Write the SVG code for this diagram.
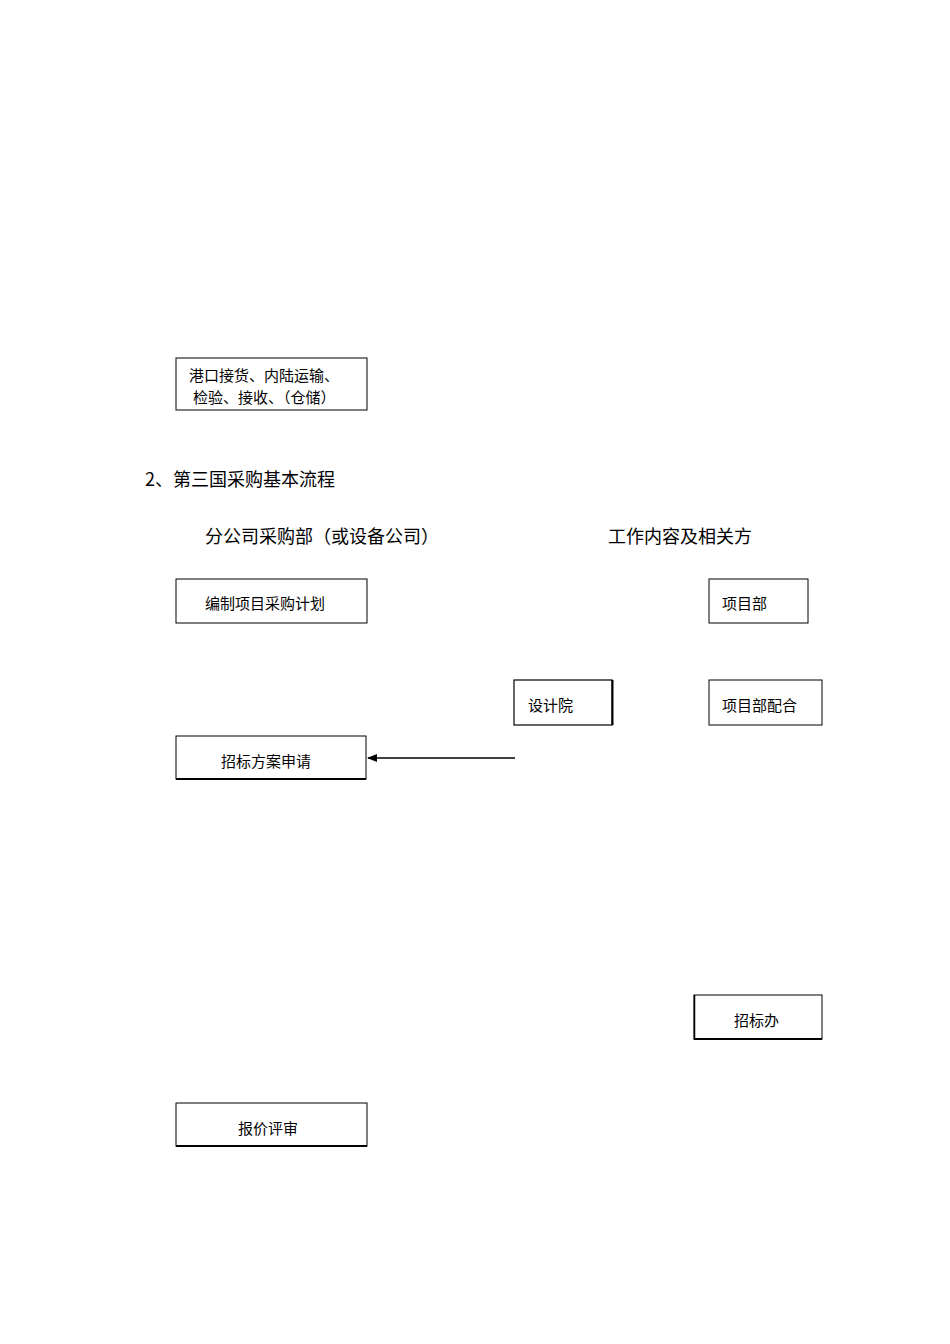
<svg xmlns="http://www.w3.org/2000/svg" width="950" height="1344" viewBox="0 0 950 1344">
<defs>
<style>
.b{fill:#fff;stroke:#000;stroke-width:1}
.t{font-family:"Liberation Serif","Noto Sans CJK SC",serif;font-size:15px;fill:#000}
.h{font-family:"Noto Sans CJK SC","Noto Sans",sans-serif;font-size:18px;fill:#000}
</style>
<marker id="ar" markerWidth="10" markerHeight="8" refX="9" refY="4" orient="auto" markerUnits="userSpaceOnUse"><path d="M0,0 L10,4 L0,8 z" fill="#000"/></marker>
</defs>
<rect width="950" height="1344" fill="#fff"/>
<g id="n1"><rect class="b" x="176" y="358" width="191" height="52"/><text class="t" x="189" y="381">港口接货、内陆运输、</text><text class="t" x="193" y="403">检验、接收、（仓储）</text></g>
<text class="h" x="145" y="486">2、第三国采购基本流程</text>
<text class="h" x="205" y="543">分公司采购部（或设备公司）</text>
<text class="h" x="608" y="543">工作内容及相关方</text>
<g id="n2"><rect class="b" x="176" y="579" width="191" height="44"/><text class="t" x="205" y="609">编制项目采购计划</text></g>
<g id="n3"><rect class="b" x="709" y="579" width="99" height="44"/><text class="t" x="722" y="609">项目部</text></g>
<g id="n4"><rect class="b" x="514" y="680" width="98" height="45" style="stroke-width:1.2"/><line x1="612.5" y1="680" x2="612.5" y2="725" stroke="#000" stroke-width="2"/><text class="t" x="528" y="711">设计院</text></g>
<g id="n5"><rect class="b" x="709" y="680" width="113" height="45"/><text class="t" x="722" y="711">项目部配合</text></g>
<g id="n6"><rect class="b" x="176" y="736" width="190" height="43"/><line x1="176" y1="779" x2="366" y2="779" stroke="#000" stroke-width="2"/><text class="t" x="221" y="767">招标方案申请</text></g>
<g id="n7"><rect class="b" x="694" y="995" width="128" height="44"/><line x1="694" y1="1039" x2="822" y2="1039" stroke="#000" stroke-width="2"/><line x1="694.5" y1="995" x2="694.5" y2="1040" stroke="#000" stroke-width="1.5"/><text class="t" x="734" y="1026">招标办</text></g>
<g id="n8"><rect class="b" x="176" y="1103" width="191" height="43"/><line x1="176" y1="1146" x2="367" y2="1146" stroke="#000" stroke-width="2"/><text class="t" x="238" y="1134">报价评审</text></g>
<g id="connectors"><line x1="515" y1="758" x2="368" y2="758" stroke="#000" stroke-width="1.5" marker-end="url(#ar)"/></g>
</svg>
